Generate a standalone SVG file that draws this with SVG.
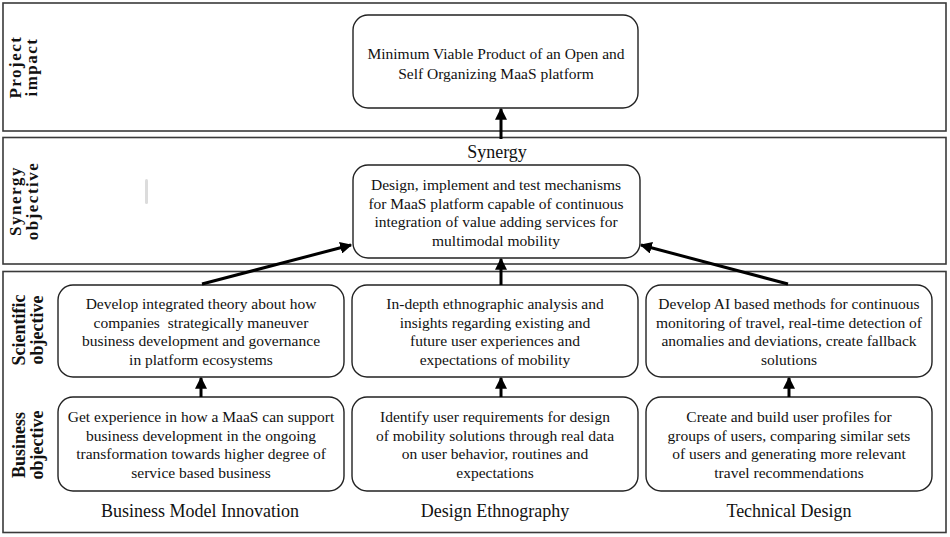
<svg xmlns="http://www.w3.org/2000/svg" width="950" height="537" viewBox="0 0 950 537">
<style>
.band{fill:#fff;stroke:#3a3a3a;stroke-width:1.6}
.node{fill:#fff;stroke:#222;stroke-width:1.4}
.t{font-family:"Liberation Serif","Times New Roman",serif;font-size:15.5px;fill:#111;text-anchor:middle}
.col{font-family:"Liberation Serif","Times New Roman",serif;font-size:18px;fill:#111;text-anchor:middle}
.lab{font-family:"Liberation Serif","Times New Roman",serif;font-size:18px;font-weight:bold;fill:#111;text-anchor:middle}
.lab2{letter-spacing:1.5px;font-size:17px}
.conn{stroke:#000;stroke-width:3;fill:none;marker-end:url(#ah)}
</style>
<defs>
<marker id="ah" viewBox="0 0 10 10" refX="9" refY="5" markerWidth="4" markerHeight="4" markerUnits="strokeWidth" orient="auto">
<path d="M0,0 L10,5 L0,10 Z" fill="#000"/>
</marker>
</defs>
<rect width="950" height="537" fill="#fff"/>
<g id="bands">
<rect class="band" x="3" y="3" width="943" height="128"/>
<rect class="band" x="3" y="137.5" width="943" height="126.5"/>
<rect class="band" x="3" y="271.5" width="943" height="261"/>
</g>
<g id="row-labels">
<text class="lab lab2" transform="translate(21,67) rotate(-90)">Project</text>
<text class="lab lab2" transform="translate(37,67) rotate(-90)">impact</text>
<text class="lab lab2" transform="translate(21,201) rotate(-90)">Synergy</text>
<text class="lab lab2" transform="translate(38,201) rotate(-90)">objective</text>
<text class="lab" transform="translate(25,330) rotate(-90)">Scientific</text>
<text class="lab" transform="translate(43,330) rotate(-90)">objective</text>
<text class="lab" transform="translate(25,445) rotate(-90)">Business</text>
<text class="lab" transform="translate(43,445) rotate(-90)">objective</text>
</g>
<rect x="145" y="179" width="3" height="25" fill="#dcdcdc" rx="1.5"/>
<g id="node-impact">
<rect class="node" x="353" y="15" width="285" height="93" rx="15"/>
<text class="t" x="496" y="59" font-size="16">Minimum Viable Product of an Open and</text>
<text class="t" x="496" y="79" font-size="16">Self Organizing MaaS platform</text>
</g>
<text class="col" x="497" y="158" font-size="19">Synergy</text>
<g id="node-synergy">
<rect class="node" x="353" y="165" width="287" height="93" rx="15"/>
<text class="t" x="496" y="190">Design, implement and test mechanisms</text>
<text class="t" x="496" y="208.5">for MaaS platform capable of continuous</text>
<text class="t" x="496" y="227">integration of value adding services for</text>
<text class="t" x="496" y="245.5">multimodal mobility</text>
</g>
<g id="node-sci-bmi">
<rect class="node" x="58" y="285" width="286" height="92" rx="15"/>
<text class="t" x="201" y="309">Develop integrated theory about how</text>
<text class="t" x="201" y="327.5" xml:space="preserve">companies  strategically maneuver</text>
<text class="t" x="201" y="346">business development and governance</text>
<text class="t" x="201" y="364.5">in platform ecosystems</text>
</g>
<g id="node-sci-de">
<rect class="node" x="352" y="285" width="286" height="92" rx="15"/>
<text class="t" x="495" y="309">In-depth ethnographic analysis and</text>
<text class="t" x="495" y="327.5">insights regarding existing and</text>
<text class="t" x="495" y="346">future user experiences and</text>
<text class="t" x="495" y="364.5">expectations of mobility</text>
</g>
<g id="node-sci-td">
<rect class="node" x="646" y="285" width="286" height="92" rx="15"/>
<text class="t" x="789" y="309">Develop AI based methods for continuous</text>
<text class="t" x="789" y="327.5">monitoring of travel, real-time detection of</text>
<text class="t" x="789" y="346">anomalies and deviations, create fallback</text>
<text class="t" x="789" y="364.5">solutions</text>
</g>
<g id="node-bus-bmi">
<rect class="node" x="58" y="397" width="286" height="94" rx="15"/>
<text class="t" x="201" y="422">Get experience in how a MaaS can support</text>
<text class="t" x="201" y="440.5">business development in the ongoing</text>
<text class="t" x="201" y="459">transformation towards higher degree of</text>
<text class="t" x="201" y="477.5">service based business</text>
</g>
<g id="node-bus-de">
<rect class="node" x="352" y="397" width="286" height="94" rx="15"/>
<text class="t" x="495" y="422">Identify user requirements for design</text>
<text class="t" x="495" y="440.5">of mobility solutions through real data</text>
<text class="t" x="495" y="459">on user behavior, routines and</text>
<text class="t" x="495" y="477.5">expectations</text>
</g>
<g id="node-bus-td">
<rect class="node" x="646" y="397" width="286" height="94" rx="15"/>
<text class="t" x="789" y="422">Create and build user profiles for</text>
<text class="t" x="789" y="440.5">groups of users, comparing similar sets</text>
<text class="t" x="789" y="459">of users and generating more relevant</text>
<text class="t" x="789" y="477.5">travel recommendations</text>
</g>
<g id="column-labels">
<text class="col" x="200" y="517">Business Model Innovation</text>
<text class="col" x="495" y="517">Design Ethnography</text>
<text class="col" x="789" y="517">Technical Design</text>
</g>
<g id="connectors">
<line class="conn" x1="501" y1="139" x2="501" y2="109"/>
<line class="conn" x1="501" y1="285" x2="501" y2="259"/>
<line class="conn" x1="202" y1="284" x2="351" y2="245"/>
<line class="conn" x1="788" y1="284" x2="641" y2="245"/>
<line class="conn" x1="201" y1="397" x2="201" y2="378"/>
<line class="conn" x1="501" y1="397" x2="501" y2="378"/>
<line class="conn" x1="789" y1="397" x2="789" y2="378"/>
</g>
</svg>
